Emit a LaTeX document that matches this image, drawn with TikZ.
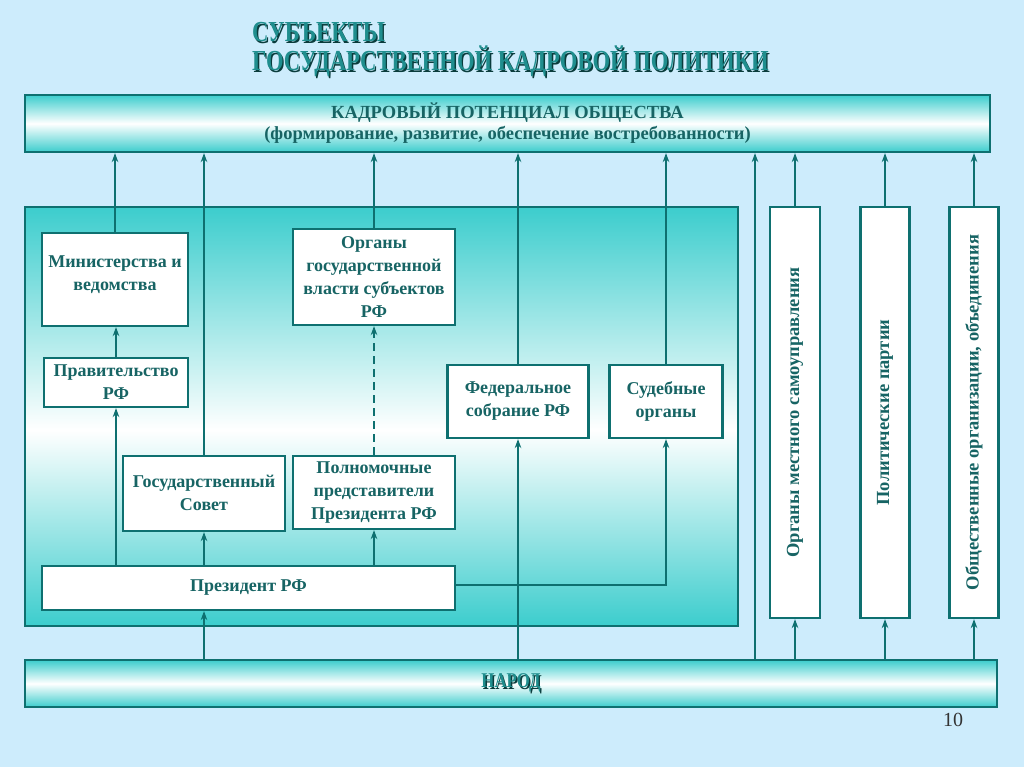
\documentclass[tikz,border=0pt]{standalone}
\usepackage{fontspec}
\setmainfont{Liberation Serif}
\usetikzlibrary{arrows.meta}
\definecolor{bg}{HTML}{CDECFC}
\definecolor{tealf}{HTML}{3CCDCD}
\definecolor{ln}{HTML}{0E7070}
\definecolor{tx}{HTML}{176464}
\definecolor{ttl}{HTML}{1F8E8E}
\definecolor{ttlsh}{HTML}{0A3C3C}
\newcommand{\shadowtext}[1]{\makebox[0pt][l]{\kern1.8pt\raisebox{-1.8pt}{\color{ttlsh}#1}}{\color{ttl}#1}}
\tikzset{
  box/.style={draw=ln, line width=2.2pt, fill=white, inner sep=0pt, align=center,
    font=\bfseries\fontsize{18}{23}\selectfont, text=tx},
  bar/.style={draw=ln, line width=2.2pt, inner sep=0pt, align=center,
    top color=tealf, bottom color=tealf, middle color=white,
    font=\bfseries\fontsize{18.5}{21}\selectfont, text=tx},
  vtext/.style={rotate=90, font=\bfseries\fontsize{18.5}{22}\selectfont, text=tx},
  conn/.style={draw=ln, line width=1.8pt},
  arr/.style={conn, -{Stealth[length=9pt,width=6.5pt]}},
  ttlfont/.style={anchor=base west, inner sep=0pt, font=\bfseries\fontsize{29}{29}\selectfont},
}
\begin{document}
\begin{tikzpicture}[x=1pt,y=-1pt]
\fill[bg] (0,0) rectangle (1024,767);
\useasboundingbox (0,0) rectangle (1024,767);

% title
\node[ttlfont] (t1) at (252,42) {\scalebox{0.78}[1]{\shadowtext{СУБЪЕКТЫ}}};
\node[ttlfont] (t2) at (252,71) {\scalebox{0.78}[1]{\shadowtext{ГОСУДАРСТВЕННОЙ КАДРОВОЙ ПОЛИТИКИ}}};

% top bar
\node[bar, minimum width=965, minimum height=57] (top) at (507.5,123.5)
  {КАДРОВЫЙ ПОТЕНЦИАЛ ОБЩЕСТВА\\(формирование, развитие, обеспечение востребованности)};

% bottom bar
\node[bar, minimum width=972, minimum height=47] (narod) at (511,683.5)
  {\fontsize{21}{21}\selectfont\scalebox{0.8}[1]{\shadowtext{НАРОД}}};

% panel
\shade[top color=tealf, bottom color=white] (25,207) rectangle (738,430);
\shade[top color=white, bottom color=tealf] (25,430) rectangle (738,626);
\draw[ln, line width=2.2pt] (25,207) rectangle (738,626);

% boxes
\node[box, minimum width=146, minimum height=93] (min) at (115,279.5) {};
\node[inner sep=0pt, align=center, font=\bfseries\fontsize{18}{23}\selectfont, text=tx] (mint) at (115,275) {Министерства и\\ведомства};
\node[box, minimum width=144, minimum height=49] (prav) at (116,382.5) {Правительство\\РФ};
\node[box, minimum width=162, minimum height=96] (org) at (374,277) {Органы\\государственной\\власти субъектов\\РФ};
\node[box, minimum width=141, minimum height=73] (fed) at (518,401.5) {Федеральное\\собрание РФ};
\node[box, minimum width=113, minimum height=73] (sud) at (666,401.5) {Судебные\\органы};
\node[box, minimum width=162, minimum height=75] (gs) at (204,493.5) {};
\node[inner sep=0pt, align=center, font=\bfseries\fontsize{18}{23}\selectfont, text=tx] (gst) at (204,493) {Государственный\\Совет};
\node[box, minimum width=162, minimum height=73] (pp) at (374,492.5) {Полномочные\\представители\\Президента РФ};
\node[box, minimum width=413, minimum height=44] (pres) at (248.5,588) {Президент РФ};

% right boxes
\node[box, minimum width=50, minimum height=411] (loc) at (795,412.5) {};
\node[vtext] (loct) at (loc.center) {Органы местного самоуправления};
\node[box, minimum width=49, minimum height=411] (pol) at (885,412.5) {};
\node[vtext] (polt) at (pol.center) {Политические партии};
\node[box, minimum width=49, minimum height=411] (obs) at (974,412.5) {};
\node[vtext] (obst) at (obs.center) {Общественные организации, объединения};

% page number
\node[font=\fontsize{20}{20}\selectfont, text=black!80] (pg) at (953,720) {10};

% connectors to top bar
\draw[arr] (min.north) -- (min.north |- top.south);
\draw[arr] (gs.north) -- (gs.north |- top.south);
\draw[arr] (org.north) -- (org.north |- top.south);
\draw[arr] (fed.north) -- (fed.north |- top.south);
\draw[arr] (sud.north) -- (sud.north |- top.south);
\draw[arr] (loc.north) -- (loc.north |- top.south);
\draw[arr] (pol.north) -- (pol.north |- top.south);
\draw[arr] (obs.north) -- (obs.north |- top.south);
\coordinate (nx) at (755,660);
\draw[arr] (nx) -- (nx |- top.south);

% inner connectors
\draw[arr] (prav.north) -- (prav.north |- min.south);
\draw[arr] (prav.south |- pres.north) -- (prav.south);
\draw[arr] (gs.south |- pres.north) -- (gs.south);
\draw[arr] (pp.south |- pres.north) -- (pp.south);
\draw[arr, dash pattern=on 8pt off 5pt] (pp.north) -- (org.south);
\draw[arr] ([yshift=3pt]pres.east) -| (sud.south);

% from narod
\draw[arr] (gs.south |- narod.north) -- (gs.south |- pres.south);
\draw[arr] (fed.south |- narod.north) -- (fed.south);
\draw[arr] (loc.south |- narod.north) -- (loc.south);
\draw[arr] (pol.south |- narod.north) -- (pol.south);
\draw[arr] (obs.south |- narod.north) -- (obs.south);
\end{tikzpicture}
\end{document}
